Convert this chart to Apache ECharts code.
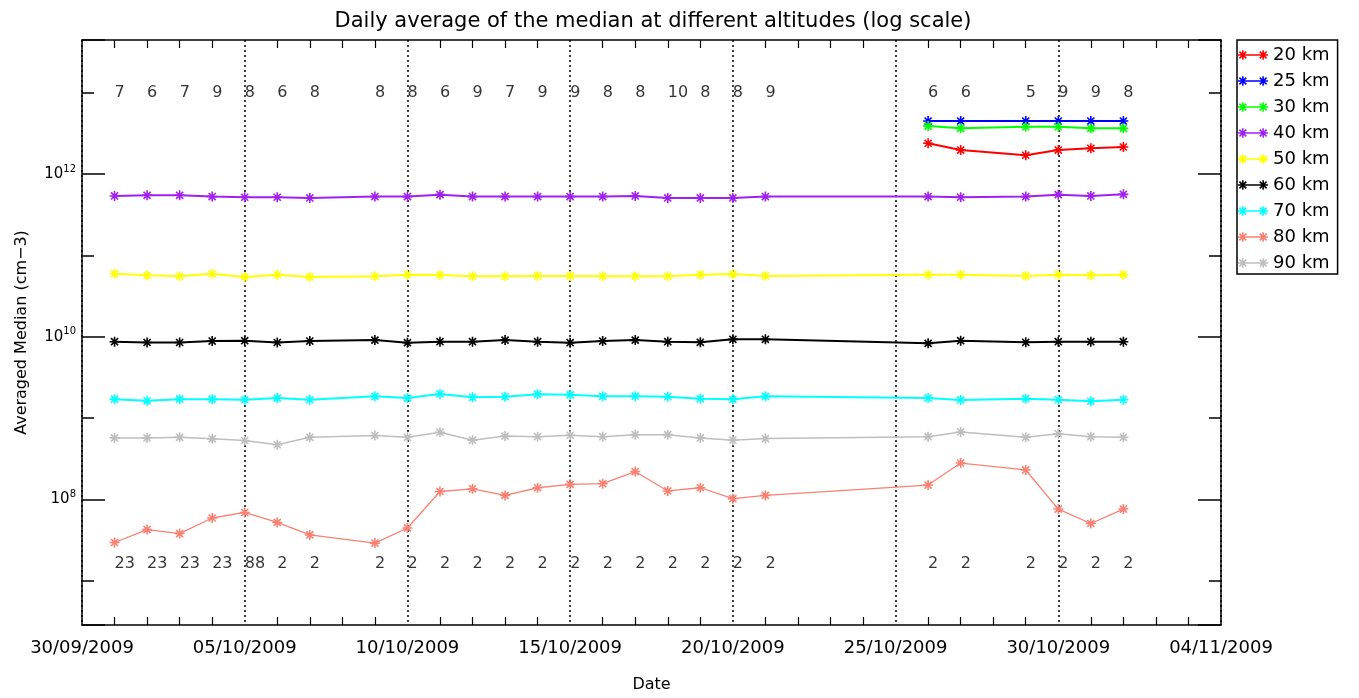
<!DOCTYPE html>
<html>
<head>
<meta charset="utf-8">
<title>Daily average of the median at different altitudes</title>
<script src="https://cdn.jsdelivr.net/npm/echarts@6/dist/echarts.min.js"></script>
<style>
  html, body { margin: 0; padding: 0; background: #fff; }
  #chart { width: 1359px; height: 698px; }
</style>
</head>
<body>
<div id="chart"></div>
<script>
// dates with data (day 0 = 30/09/2009)
const dates = ["01/10/2009", "02/10/2009", "03/10/2009", "04/10/2009", "05/10/2009", "06/10/2009", "07/10/2009",
  "09/10/2009", "10/10/2009", "11/10/2009", "12/10/2009", "13/10/2009", "14/10/2009", "15/10/2009", "16/10/2009",
  "17/10/2009", "18/10/2009", "19/10/2009", "20/10/2009", "21/10/2009",
  "26/10/2009", "27/10/2009", "29/10/2009", "30/10/2009", "31/10/2009", "01/11/2009"];
// the three lowest altitudes only exist at the end of the period
const datesLow = ["26/10/2009", "27/10/2009", "29/10/2009", "30/10/2009", "31/10/2009", "01/11/2009"];

const xTickLabels = ["30/09/2009", "05/10/2009", "10/10/2009", "15/10/2009", "20/10/2009", "25/10/2009", "30/10/2009", "04/11/2009"];

const km20 = [2.4e12, 1.98e12, 1.71e12, 1.98e12, 2.08e12, 2.16e12];
const km25 = [4.5e12, 4.5e12, 4.5e12, 4.5e12, 4.5e12, 4.5e12];
const km30 = [3.9e12, 3.66e12, 3.83e12, 3.83e12, 3.66e12, 3.66e12];
const km40 = [5.4e11, 5.5e11, 5.5e11, 5.3e11, 5.2e11, 5.2e11, 5.1e11, 5.3e11, 5.3e11, 5.6e11, 5.3e11, 5.3e11, 5.3e11,
  5.3e11, 5.3e11, 5.4e11, 5.1e11, 5.1e11, 5.1e11, 5.3e11, 5.3e11, 5.2e11, 5.3e11, 5.6e11, 5.4e11, 5.65e11];
const km50 = [5.97e10, 5.7e10, 5.55e10, 5.95e10, 5.45e10, 5.8e10, 5.45e10, 5.55e10, 5.8e10, 5.75e10, 5.55e10, 5.55e10, 5.6e10,
  5.6e10, 5.55e10, 5.55e10, 5.55e10, 5.8e10, 5.9e10, 5.6e10, 5.8e10, 5.8e10, 5.6e10, 5.8e10, 5.7e10, 5.8e10];
const km60 = [8.7e9, 8.5e9, 8.5e9, 8.85e9, 8.95e9, 8.5e9, 8.85e9, 9.1e9, 8.45e9, 8.7e9, 8.7e9, 9.1e9, 8.7e9,
  8.45e9, 8.85e9, 9.1e9, 8.7e9, 8.55e9, 9.3e9, 9.3e9, 8.3e9, 8.95e9, 8.55e9, 8.7e9, 8.7e9, 8.7e9];
const km70 = [1.71e9, 1.63e9, 1.71e9, 1.71e9, 1.68e9, 1.76e9, 1.68e9, 1.85e9, 1.76e9, 1.98e9, 1.8e9, 1.83e9, 1.97e9,
  1.93e9, 1.85e9, 1.86e9, 1.83e9, 1.73e9, 1.7e9, 1.85e9, 1.76e9, 1.67e9, 1.73e9, 1.68e9, 1.61e9, 1.68e9];
const km80 = [2.95e7, 4.25e7, 3.8e7, 5.9e7, 6.9e7, 5.2e7, 3.65e7, 2.9e7, 4.45e7, 1.25e8, 1.35e8, 1.12e8, 1.39e8,
  1.53e8, 1.56e8, 2.2e8, 1.27e8, 1.39e8, 1.02e8, 1.12e8, 1.5e8, 2.8e8, 2.3e8, 7.6e7, 5.05e7, 7.6e7];
const km90 = [5.7e8, 5.7e8, 5.8e8, 5.55e8, 5.3e8, 4.7e8, 5.8e8, 6.1e8, 5.8e8, 6.7e8, 5.35e8, 6.0e8, 5.9e8,
  6.15e8, 5.9e8, 6.25e8, 6.25e8, 5.7e8, 5.35e8, 5.6e8, 5.9e8, 6.75e8, 5.8e8, 6.4e8, 5.9e8, 5.8e8];

// numbers written above / below the curves
const topCounts = [7, 6, 7, 9, 8, 6, 8, 8, 8, 6, 9, 7, 9, 9, 8, 8, 10, 8, 8, 9, 6, 6, 5, 9, 9, 8];
const bottomCounts = [23, 23, 23, 23, 88, 2, 2, 2, 2, 2, 2, 2, 2, 2, 2, 2, 2, 2, 2, 2, 2, 2, 2, 2, 2, 2];

const FONT = "DejaVu Sans";
const yMin = 2.85e6, yMax = 4.47e13;

function toDay(s) {
  const p = s.split("/").map(Number);
  return (Date.UTC(p[2], p[1] - 1, p[0]) - Date.UTC(2009, 8, 30)) / 864e5;
}
function pairs(ds, vs) {
  return ds.map((d, i) => [toDay(d), vs[i]]);
}
// asterisk built from 4 thin bars
function star(cx, cy, r, w) {
  let p = "";
  [0, 45, 90, 135].forEach(a => {
    const c = Math.cos(a * Math.PI / 180), s = Math.sin(a * Math.PI / 180);
    const pts = [
      [cx + r * c - w * s, cy + r * s + w * c],
      [cx - r * c - w * s, cy - r * s + w * c],
      [cx - r * c + w * s, cy - r * s - w * c],
      [cx + r * c + w * s, cy + r * s - w * c]
    ];
    p += "M" + pts.map(q => q[0].toFixed(2) + " " + q[1].toFixed(2)).join(" L") + " Z ";
  });
  return p;
}
const markSymbol = "path://" + star(10, 10, 10, 1.6);
const legendIcon = "path://M0 6.3 L30 6.3 L30 7.7 L0 7.7 Z " + star(4.5, 7, 5, 0.8) + star(25.5, 7, 5, 0.8);

const lines = [
  { name: "20 km", data: pairs(datesLow, km20), color: "#ff0000", width: 2 },
  { name: "25 km", data: pairs(datesLow, km25), color: "#0000ff", width: 2 },
  { name: "30 km", data: pairs(datesLow, km30), color: "#00ff00", width: 2 },
  { name: "40 km", data: pairs(dates, km40), color: "#a020f0", width: 2 },
  { name: "50 km", data: pairs(dates, km50), color: "#ffff00", width: 2 },
  { name: "60 km", data: pairs(dates, km60), color: "#000000", width: 2 },
  { name: "70 km", data: pairs(dates, km70), color: "#00ffff", width: 2 },
  { name: "80 km", data: pairs(dates, km80), color: "#fa8072", width: 1.3 },
  { name: "90 km", data: pairs(dates, km90), color: "#bebebe", width: 1.5 }
];

function countSeries(counts, yPos) {
  return {
    type: "scatter",
    silent: true,
    symbolSize: 0,
    data: dates.map((d, i) => [toDay(d), yPos, counts[i]]),
    label: {
      show: true,
      position: "inside",
      align: "left",
      formatter: p => String(p.value[2]),
      color: "#000",
      fontFamily: FONT,
      fontSize: 16
    }
  };
}

function expLabel(v) {
  const e = Math.log10(v);
  if (Math.abs(e - Math.round(e)) > 1e-6) return "";
  return "{b|10}{e|" + Math.round(e) + "}";
}

const axisLineStyle = { color: "#000", width: 1.5 };

let option = {
  backgroundColor: "#fff",
  animation: false,
  title: {
    text: "Daily average of the median at different altitudes (log scale)",
    left: 648,
    top: 6,
    textAlign: "center",
    textStyle: { fontFamily: FONT, fontSize: 21, fontWeight: "normal", color: "#000" }
  },
  legend: {
    orient: "vertical",
    left: 1237,
    top: 40,
    padding: [6, 8, 2, 1],
    itemWidth: 30,
    itemHeight: 14,
    itemGap: 8,
    borderColor: "#000",
    borderWidth: 1.5,
    icon: legendIcon,
    data: lines.map(l => l.name),
    textStyle: { fontFamily: FONT, fontSize: 18, color: "#000", lineHeight: 14 }
  },
  grid: { left: 82, right: 138, top: 40, bottom: 70 },
  xAxis: [
    {
      type: "value",
      min: 0,
      max: 35,
      interval: 5,
      position: "bottom",
      axisLine: { lineStyle: axisLineStyle },
      axisTick: { show: false, inside: true },
      minorTick: { show: true, splitNumber: 5, length: 8, lineStyle: { color: "#000", width: 1.2 } },
      splitLine: { show: true, lineStyle: { color: "#000", type: [2, 3], width: 1.5 } },
      axisLabel: {
        formatter: v => xTickLabels[Math.round(v / 5)],
        color: "#000",
        fontFamily: FONT,
        fontSize: 18,
        margin: 14
      },
      name: "Date",
      nameLocation: "middle",
      nameGap: 52,
      nameTextStyle: { fontFamily: FONT, fontSize: 16, color: "#000" }
    },
    {
      type: "value",
      min: 0,
      max: 35,
      interval: 5,
      position: "top",
      axisLine: { lineStyle: axisLineStyle },
      axisTick: { show: false, inside: true },
      minorTick: { show: true, splitNumber: 5, length: 8, lineStyle: { color: "#000", width: 1.2 } },
      splitLine: { show: false },
      axisLabel: { show: false }
    }
  ],
  yAxis: [
    {
      type: "log",
      logBase: 10,
      min: yMin,
      max: yMax,
      position: "left",
      axisLine: { show: true, lineStyle: axisLineStyle },
      axisTick: { inside: true, length: 12, lineStyle: axisLineStyle },
      axisLabel: { show: false },
      splitLine: { show: false }
    },
    {
      type: "log",
      logBase: 100,
      min: yMin,
      max: yMax,
      position: "left",
      axisLine: { show: false },
      axisTick: { inside: true, length: 23, lineStyle: axisLineStyle },
      axisLabel: {
        formatter: expLabel,
        margin: 6,
        rich: {
          b: { fontFamily: FONT, fontSize: 15, color: "#000", lineHeight: 20 },
          e: { fontFamily: FONT, fontSize: 10, color: "#000", verticalAlign: "top", lineHeight: 12 }
        }
      },
      splitLine: { show: false },
      name: "Averaged Median (cm\u22123)",
      nameLocation: "middle",
      nameGap: 52,
      nameTextStyle: { fontFamily: FONT, fontSize: 16, color: "#000" }
    },
    {
      type: "log",
      logBase: 10,
      min: yMin,
      max: yMax,
      position: "right",
      axisLine: { show: true, lineStyle: axisLineStyle },
      axisTick: { inside: true, length: 12, lineStyle: axisLineStyle },
      axisLabel: { show: false },
      splitLine: { show: false }
    },
    {
      type: "log",
      logBase: 100,
      min: yMin,
      max: yMax,
      position: "right",
      axisLine: { show: false },
      axisTick: { inside: true, length: 23, lineStyle: axisLineStyle },
      axisLabel: { show: false },
      splitLine: { show: false }
    }
  ],
  series: lines.map(l => ({
    name: l.name,
    type: "line",
    data: l.data,
    symbol: markSymbol,
    symbolSize: 10,
    showAllSymbol: true,
    itemStyle: { color: l.color },
    lineStyle: { color: l.color, width: l.width }
  })).concat([countSeries(topCounts, 1e13), countSeries(bottomCounts, 1.6e7)])
};

let myChart = echarts.init(document.getElementById("chart"));
myChart.setOption(option);
</script>
</body>
</html>
